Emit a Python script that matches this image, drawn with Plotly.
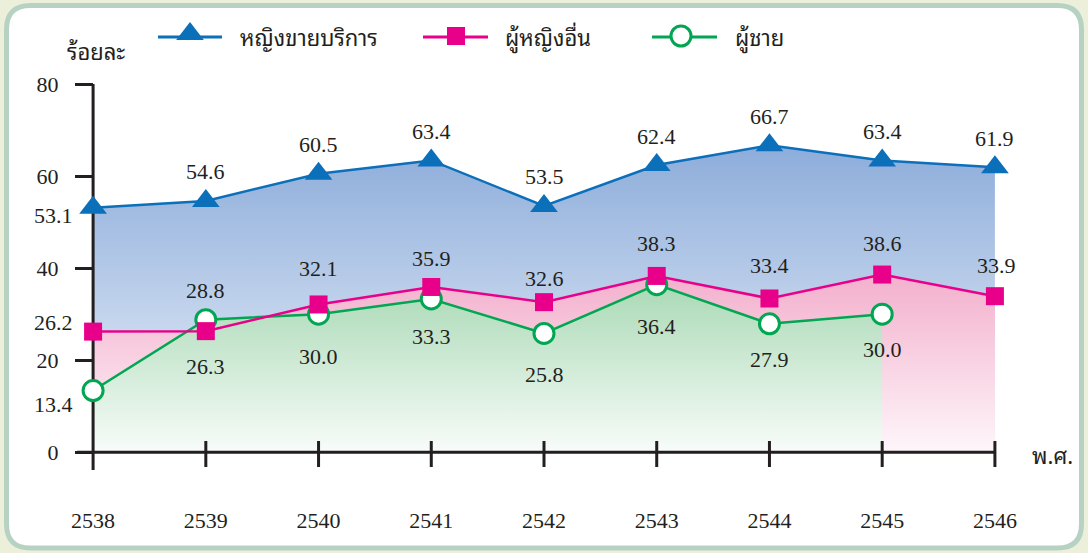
import plotly.graph_objects as go

# ---------------- data ----------------
years = [2538, 2539, 2540, 2541, 2542, 2543, 2544, 2545, 2546]
year_labels = [str(y) for y in years]
sex_workers = [53.1, 54.6, 60.5, 63.4, 53.5, 62.4, 66.7, 63.4, 61.9]
other_women = [26.2, 26.3, 32.1, 35.9, 32.6, 38.3, 33.4, 38.6, 33.9]
men = [13.4, 28.8, 30.0, 33.3, 25.8, 36.4, 27.9, 30.0]
men_years = years[:len(men)]
y_ticks = [0, 20, 40, 60, 80]

series_names = ["หญิงขายบริการ", "ผู้หญิงอื่น", "ผู้ชาย"]
y_title = "ร้อยละ"
x_title = "พ.ศ."

# ---------------- styles ----------------
INK = "#231f20"
BLUE = "#0b6fba"
MAGENTA = "#e8008a"
GREEN = "#00a651"
SERIF = "Liberation Serif, Times New Roman, serif"
THAI = ("Noto Sans Thai Looped, Noto Serif Thai, Loma, Norasi, Garuda, Sarabun, "
        "Noto Sans Thai, sans-serif")

W, H = 1088, 553
L, R, T, B = 48, 1040, 15, 489
XR = [2537.6, 2546.4]
YR = [-8, 95]


def dx(px):
    return XR[0] + (px - L) / (R - L) * (XR[1] - XR[0])


def dy(py):
    return YR[0] + (B - py) / (B - T) * (YR[1] - YR[0])


def pxp(px):
    return (px - L) / (R - L)


def pyp(py):
    return (B - py) / (B - T)


# label offsets (xanchor, xshift px, yshift px)
blue_off = [("right", -18, -8)] + [("center", 0, 29)] * 8
mag_off = [("right", -18, 9), ("center", 0, -35), ("center", 0, 36), ("center", 0, 28),
           ("center", 0, 24), ("center", 0, 32), ("center", 0, 33), ("center", 0, 31),
           ("center", 2, 31)]
green_off = [("right", -18, -14), ("center", 0, 29), ("center", 0, -42), ("center", 0, -38),
             ("center", 0, -41), ("center", 0, -42), ("center", 0, -36), ("center", 0, -35)]

fig = go.Figure()

# ---- gradient fills ----
fig.add_trace(go.Scatter(
    x=years, y=sex_workers, mode="none", fill="tozeroy",
    fillgradient=dict(type="vertical", start=0, stop=67,
                      colorscale=[[0, "#eef3fb"], [1, "#8cacda"]]),
    hoverinfo="skip", showlegend=False))
fig.add_trace(go.Scatter(
    x=years, y=other_women, mode="none", fill="tozeroy",
    fillgradient=dict(type="vertical", start=0, stop=39,
                      colorscale=[[0, "#fef6fa"], [1, "#f3afcc"]]),
    hoverinfo="skip", showlegend=False))
fig.add_trace(go.Scatter(
    x=men_years, y=men, mode="none", fill="tozeroy",
    fillgradient=dict(type="vertical", start=0, stop=37,
                      colorscale=[[0, "#f8fcf9"], [1, "#a9d9b5"]]),
    hoverinfo="skip", showlegend=False))

# ---- axis lines and x tick marks (over fills, under markers) ----
fig.add_trace(go.Scatter(x=[dx(77), years[-1]], y=[0, 0], mode="lines",
                         line=dict(color=INK, width=3), hoverinfo="skip", showlegend=False))
fig.add_trace(go.Scatter(x=[years[0], years[0]], y=[dy(470), 80], mode="lines",
                         line=dict(color=INK, width=3), hoverinfo="skip", showlegend=False))
tx, ty = [], []
for yv in years[1:]:
    tx += [yv, yv, None]
    ty += [dy(467), dy(441), None]
fig.add_trace(go.Scatter(x=tx, y=ty, mode="lines", line=dict(color=INK, width=3),
                         hoverinfo="skip", showlegend=False))

# ---- series lines ----
fig.add_trace(go.Scatter(
    x=men_years, y=men, mode="lines+markers", name=series_names[2],
    line=dict(color=GREEN, width=2.5),
    marker=dict(symbol="circle", size=20, color="white", line=dict(color=GREEN, width=3)),
    cliponaxis=False, showlegend=False))
fig.add_trace(go.Scatter(
    x=years, y=other_women, mode="lines+markers", name=series_names[1],
    line=dict(color=MAGENTA, width=2.5),
    marker=dict(symbol="square", size=18, color=MAGENTA, line=dict(width=0)),
    cliponaxis=False, showlegend=False))
fig.add_trace(go.Scatter(
    x=years, y=sex_workers, mode="lines+markers", name=series_names[0],
    line=dict(color=BLUE, width=2.5),
    marker=dict(symbol="triangle-up", size=24, color=BLUE, line=dict(width=0)),
    cliponaxis=False, showlegend=False))

# ---- value labels ----
annotations = []
for xs, vals, offs in [(years, sex_workers, blue_off), (years, other_women, mag_off),
                       (men_years, men, green_off)]:
    for xv, v, (xa, xs_, ys_) in zip(xs, vals, offs):
        annotations.append(dict(
            x=xv, y=v, xref="x", yref="y", text=f"{v:.1f}", showarrow=False,
            xanchor=xa, yanchor="middle", xshift=xs_, yshift=ys_,
            font=dict(family=SERIF, size=22, color=INK)))

# axis titles
annotations.append(dict(x=pxp(96), y=pyp(50), xref="paper", yref="paper", text=y_title,
                        showarrow=False, xanchor="center", yanchor="middle",
                        font=dict(family=THAI, size=22, color=INK)))
annotations.append(dict(x=pxp(1030), y=pyp(454), xref="paper", yref="paper", text=x_title,
                        showarrow=False, xanchor="left", yanchor="middle",
                        font=dict(family=THAI, size=22, color=INK)))

# ---- custom legend ----
legend_items = [
    (series_names[0], BLUE, "triangle-up", 24, BLUE, 158, 222, 190, 238),
    (series_names[1], MAGENTA, "square", 18, MAGENTA, 423, 488, 456, 503),
    (series_names[2], GREEN, "circle", 20, "white", 652, 717, 681, 733),
]
shapes = []
# rounded white frame
x0, x1, y0, y1, r = 6.5, 1081.5, 5.5, 548.0, 24


def P(px, py):
    return f"{pxp(px):.6f},{pyp(py):.6f}"


frame = (f"M{P(x0 + r, y0)} L{P(x1 - r, y0)} Q{P(x1, y0)} {P(x1, y0 + r)} "
         f"L{P(x1, y1 - r)} Q{P(x1, y1)} {P(x1 - r, y1)} L{P(x0 + r, y1)} "
         f"Q{P(x0, y1)} {P(x0, y1 - r)} L{P(x0, y0 + r)} Q{P(x0, y0)} {P(x0 + r, y0)} Z")
shapes.append(dict(type="path", path=frame, xref="paper", yref="paper",
                   fillcolor="white", line=dict(color="#b6d2c3", width=5), layer="below"))

LEG_Y = 37
for name, col, sym, size, fillc, lx0, lx1, mx, tx0 in legend_items:
    shapes.append(dict(type="line", xref="paper", yref="paper",
                       x0=pxp(lx0), x1=pxp(lx1), y0=pyp(LEG_Y), y1=pyp(LEG_Y),
                       line=dict(color=col, width=3), layer="below"))
    fig.add_trace(go.Scatter(
        x=[dx(mx)], y=[dy(LEG_Y - (3 if sym == "triangle-up" else 1))], mode="markers",
        marker=dict(symbol=sym, size=size, color=fillc,
                    line=dict(color=col, width=3 if sym == "circle" else 0)),
        cliponaxis=False, hoverinfo="skip", showlegend=False))
    annotations.append(dict(x=pxp(tx0), y=pyp(LEG_Y - 1), xref="paper", yref="paper", text=name,
                            showarrow=False, xanchor="left", yanchor="middle",
                            font=dict(family=THAI, size=22, color=INK)))

fig.update_layout(
    width=W, height=H,
    margin=dict(l=L, r=W - R, t=T, b=H - B, pad=0),
    paper_bgcolor="#ecefd9",
    plot_bgcolor="rgba(0,0,0,0)",
    showlegend=False,
    xaxis=dict(range=XR, tickvals=years, ticktext=year_labels, ticks="",
               showgrid=False, zeroline=False, showline=False,
               ticklabelstandoff=16,
               tickfont=dict(family=SERIF, size=22, color=INK)),
    yaxis=dict(range=YR, anchor="free", position=pxp(93), tickvals=y_ticks,
               ticks="outside", ticklen=18, tickwidth=3, tickcolor=INK,
               showgrid=False, zeroline=False, showline=False,
               ticklabelstandoff=12,
               tickfont=dict(family=SERIF, size=22, color=INK)),
    shapes=shapes,
    annotations=annotations,
)

fig.write_html("out.html", config={"displayModeBar": False},
               post_script="document.body.style.margin='0';")
